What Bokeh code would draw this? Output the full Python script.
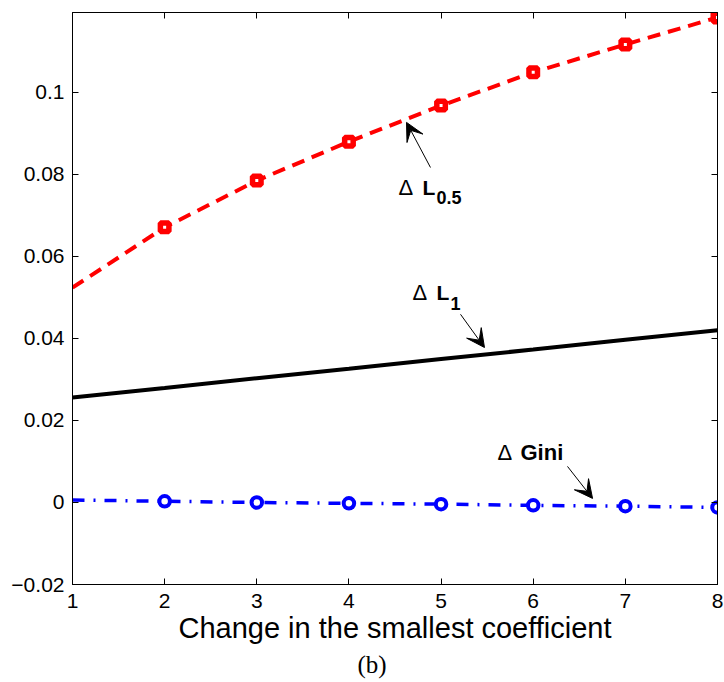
from bokeh.plotting import figure
from bokeh.models import (Range1d, FixedTicker, LinearAxis, CustomJSTickFormatter,
                          Label, Arrow, VeeHead, Title)
from bokeh.embed import file_html
from bokeh.resources import INLINE

# ---- data ----
x = [1, 2, 3, 4, 5, 6, 7, 8]
delta_l05 = [0.0524, 0.0671, 0.0785, 0.0880, 0.0968, 0.1049, 0.1117, 0.1183]
delta_l1 = [0.0256, 0.0279, 0.0303, 0.0326, 0.0350, 0.0373, 0.0397, 0.0420]
delta_gini = [0.0006, 0.0003, 0.0000, -0.0002, -0.0004, -0.0007, -0.0009, -0.0012]
x_ticks = [1, 2, 3, 4, 5, 6, 7, 8]
y_ticks = [-0.02, 0, 0.02, 0.04, 0.06, 0.08, 0.1]
x_label = "Change in the smallest coefficient"
caption = "(b)"

SANS = "Liberation Sans"

p = figure(width=724, height=682, output_backend="svg", toolbar_location=None,
           x_range=Range1d(1, 8), y_range=Range1d(-0.02, 0.1195),
           min_border_left=72, min_border_right=7, min_border_top=12,
           min_border_bottom=98, x_axis_type=None, y_axis_type=None)
p.xgrid.visible = False
p.ygrid.visible = False
p.outline_line_color = "black"
p.outline_line_width = 1
p.background_fill_color = "white"
p.border_fill_color = "white"

fmt = CustomJSTickFormatter(code="""
    if (Math.abs(tick) < 1e-12) return "0";
    var s = Math.abs(tick).toString();
    return tick < 0 ? "\\u2212" + s : s;
""")

def style_axis(ax, labels=True, standoff=8):
    ax.axis_line_color = "black"
    ax.major_tick_line_color = "black"
    ax.major_tick_in = 6
    ax.major_tick_out = 0
    ax.minor_tick_line_color = None
    ax.major_label_text_font = SANS
    if labels:
        ax.major_label_text_color = "black"
        ax.major_label_text_font_size = "21px"
        ax.major_label_standoff = standoff
    else:
        ax.major_label_text_color = None
        ax.major_label_text_font_size = "1px"
        ax.major_label_standoff = 0

xb = LinearAxis(ticker=FixedTicker(ticks=x_ticks), axis_label=x_label)
style_axis(xb, True, 9)
xb.axis_label_text_font = SANS
xb.axis_label_text_font_size = "29px"
xb.axis_label_text_font_style = "normal"
xb.axis_label_text_color = "black"
xb.axis_label_standoff = 1
p.add_layout(xb, "below")

yl = LinearAxis(ticker=FixedTicker(ticks=y_ticks), formatter=fmt)
style_axis(yl, True, 8)
p.add_layout(yl, "left")

xt = LinearAxis(ticker=FixedTicker(ticks=x_ticks))
style_axis(xt, False)
p.add_layout(xt, "above")
yr = LinearAxis(ticker=FixedTicker(ticks=y_ticks))
style_axis(yr, False)
p.add_layout(yr, "right")

p.add_layout(Title(text=caption, align="left", offset=285, standoff=5,
                   text_font="Liberation Serif", text_font_size="25px",
                   text_font_style="normal", text_color="black"), "below")

# ---- series ----
p.line(x, delta_l1, line_color="black", line_width=4)

p.line(x, delta_l05, line_color="#ff0000", line_width=4, line_dash="13 8")
p.scatter(x[1:], delta_l05[1:], marker="square", size=8.5, line_width=5.5,
          line_color="#ff0000", fill_color="white")

p.line(x, delta_gini, line_color="#0000ff", line_width=3.5, line_dash="12 9 2 9")
p.scatter(x[1:], delta_gini[1:], marker="circle", size=10.5, line_width=4,
          line_color="#0000ff", fill_color="white")

# ---- annotations ----
def head():
    return VeeHead(size=18, fill_color="black", line_color="black", line_width=1)

p.add_layout(Arrow(x_start=4.885, y_start=0.0817, x_end=4.625, y_end=0.0927,
                   end=head(), line_width=1, line_color="black"))
p.add_layout(Arrow(x_start=5.211, y_start=0.0459, x_end=5.471, y_end=0.0378,
                   end=head(), line_width=1, line_color="black"))
p.add_layout(Arrow(x_start=6.372, y_start=0.0088, x_end=6.644, y_end=0.0010,
                   end=head(), line_width=1, line_color="black"))

def lab(xv, yv, txt, size, bold):
    p.add_layout(Label(x=xv, y=yv, text=txt, text_font=SANS, text_font_size=size,
                       text_font_style="bold" if bold else "normal",
                       text_color="black", text_align="left", text_baseline="middle"))

# Δ L_0.5
lab(4.538, 0.0768, "Δ", "22px", False)
lab(4.799, 0.0768, "L", "21px", True)
lab(4.950, 0.0744, "0.5", "18px", True)
# Δ L_1
lab(4.690, 0.0512, "Δ", "22px", False)
lab(4.950, 0.0512, "L", "21px", True)
lab(5.102, 0.0485, "1", "18px", True)
# Δ Gini
lab(5.613, 0.0122, "Δ", "22px", False)
lab(5.862, 0.0122, "Gini", "22px", True)

open("out.html", "w").write(file_html(p, INLINE))
